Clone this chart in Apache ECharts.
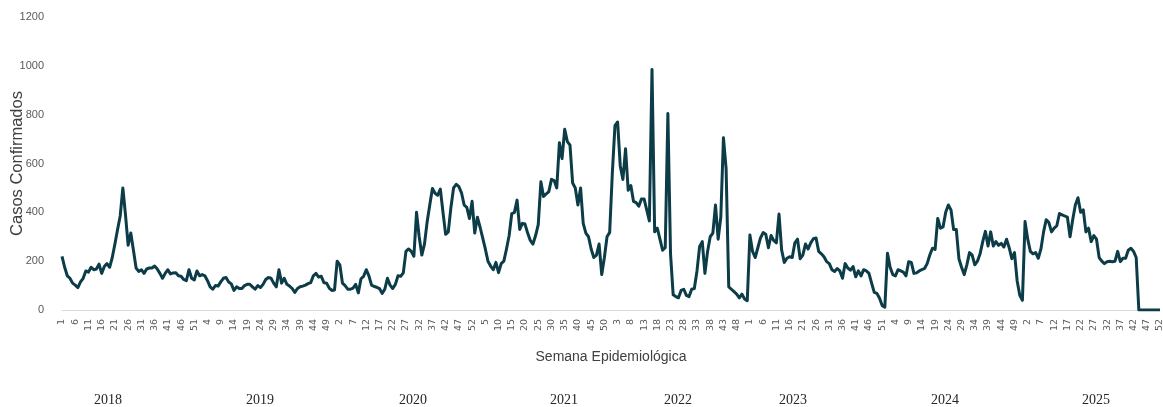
<!DOCTYPE html>
<html>
<head>
<meta charset="utf-8">
<script src="https://cdn.jsdelivr.net/npm/echarts@6/dist/echarts.min.js"></script>
<style>
  html, body { margin: 0; padding: 0; background: #fff; }
  #chart { width: 1163px; height: 407px; }
</style>
</head>
<body>
<div id="chart"></div>
<script>
// casos confirmados por semana epidemiológica, 52 semanas por año
const years = ['2018', '2019', '2020', '2021', '2022', '2023', '2024', '2025'];

const cases2018 = [220, 175, 140, 130, 110, 102, 92, 115, 130, 160, 155, 175, 165, 168, 188, 150, 178, 190, 175, 215,
  270, 330, 385, 500, 390, 265, 315, 245, 172, 158, 165, 150, 168, 172, 172, 180, 168, 150, 130, 150,
  165, 148, 152, 153, 140, 138, 125, 120, 165, 130, 123, 160];
const cases2019 = [140, 145, 140, 120, 95, 85, 100, 98, 115, 130, 133, 115, 107, 80, 95, 88, 88, 100, 105, 105,
  95, 85, 100, 92, 105, 125, 133, 130, 110, 95, 165, 110, 130, 105, 98, 88, 72, 88, 95, 98,
  102, 108, 112, 140, 150, 135, 138, 112, 110, 90, 80, 82];
const cases2020 = [200, 185, 110, 100, 85, 85, 90, 105, 70, 128, 138, 165, 140, 102, 96, 93, 88, 68, 85, 130,
  102, 88, 105, 140, 138, 152, 240, 250, 240, 220, 400, 300, 225, 270, 360, 430, 498, 478, 470, 495,
  400, 310, 320, 420, 500, 515, 505, 480, 430, 420, 375, 445];
const cases2021 = [315, 380, 340, 295, 250, 200, 180, 165, 195, 153, 190, 200, 250, 305, 395, 400, 450, 330, 355, 352,
  315, 285, 270, 305, 350, 525, 465, 475, 485, 535, 530, 500, 685, 620, 740, 690, 675, 520, 500, 430,
  500, 355, 315, 300, 250, 215, 225, 270, 145, 215, 300, 318];
const cases2022 = [560, 755, 770, 590, 535, 660, 490, 510, 445, 440, 425, 455, 455, 410, 365, 985, 320, 335, 290, 245,
  255, 805, 230, 62, 55, 50, 80, 85, 60, 55, 85, 88, 160, 260, 280, 150, 240, 300, 315, 430,
  290, 380, 705, 580, 95, 85, 75, 65, 50, 65, 45, 38];
const cases2023 = [307, 240, 215, 255, 295, 317, 310, 255, 305, 285, 275, 393, 245, 195, 212, 218, 215, 275, 290, 210,
  225, 270, 250, 275, 292, 295, 240, 230, 218, 198, 190, 165, 158, 170, 160, 130, 190, 172, 163, 178,
  136, 160, 140, 165, 160, 150, 110, 72, 68, 48, 18, 12];
const cases2024 = [232, 175, 145, 140, 165, 160, 155, 140, 198, 195, 150, 152, 160, 165, 170, 190, 225, 253, 248, 375,
  335, 340, 400, 430, 410, 330, 330, 210, 175, 145, 185, 235, 225, 185, 200, 230, 280, 322, 262, 320,
  262, 280, 265, 273, 258, 290, 255, 210, 235, 120, 60, 40];
const cases2025 = [362, 290, 240, 230, 235, 212, 250, 320, 370, 358, 320, 335, 345, 395, 390, 385, 380, 300, 370, 430,
  460, 400, 410, 320, 335, 280, 305, 290, 215, 200, 190, 198, 200, 198, 200, 240, 198, 212, 212, 245,
  253, 240, 215, 0, 0, 0, 0, 0, 0, 0, 0, 0];

const yearly = [cases2018, cases2019, cases2020, cases2021, cases2022, cases2023, cases2024, cases2025];
const weeks = [];
const cases = [];
yearly.forEach(list => {
  list.forEach((v, i) => {
    weeks.push(String(i + 1));
    cases.push(v);
  });
});

// posiciones de las etiquetas de año debajo del eje (px)
const yearLabelLeft = [110, 262, 415, 566, 680, 795, 947, 1098];

const chart = echarts.init(document.getElementById('chart'));
const option = {
  animation: false,
  grid: {
    left: 62,
    right: 3,
    top: 17,
    bottom: 97,
    outerBoundsMode: 'none'
  },
  xAxis: {
    type: 'category',
    data: weeks,
    boundaryGap: false,
    name: 'Semana Epidemiológica',
    nameLocation: 'middle',
    nameGap: 40,
    nameMoveOverlap: false,
    nameTextStyle: {
      fontFamily: 'Liberation Sans',
      fontSize: 14,
      color: '#404040'
    },
    axisLine: { lineStyle: { color: '#d9d9d9', width: 1 } },
    axisTick: { show: false },
    axisLabel: {
      interval: 4,
      rotate: 90,
      margin: 9,
      fontFamily: 'DejaVu Sans',
      fontSize: 9.5,
      color: '#595959'
    }
  },
  yAxis: {
    type: 'value',
    min: 0,
    max: 1200,
    interval: 200,
    name: 'Casos Confirmados',
    nameLocation: 'middle',
    nameGap: 36,
    nameMoveOverlap: false,
    nameTextStyle: {
      fontFamily: 'Liberation Sans',
      fontSize: 16.5,
      color: '#404040'
    },
    splitLine: { show: false },
    axisLine: { show: false },
    axisTick: { show: false },
    axisLabel: {
      margin: 18,
      formatter: v => String(v),
      fontFamily: "'Liberation Sans Narrow', 'Liberation Sans'",
      fontSize: 11,
      color: '#595959'
    }
  },
  series: [
    {
      name: 'Casos',
      type: 'line',
      data: cases,
      showSymbol: false,
      lineStyle: { color: '#0b3c47', width: 3, join: 'round' },
      itemStyle: { color: '#0b3c47' }
    }
  ],
  graphic: years.map((y, i) => ({
    type: 'text',
    left: yearLabelLeft[i] - 16,
    top: 393,
    style: {
      text: y,
      fontFamily: 'Liberation Serif',
      fontSize: 14,
      fill: '#262626'
    }
  }))
};
chart.setOption(option);
</script>
</body>
</html>
